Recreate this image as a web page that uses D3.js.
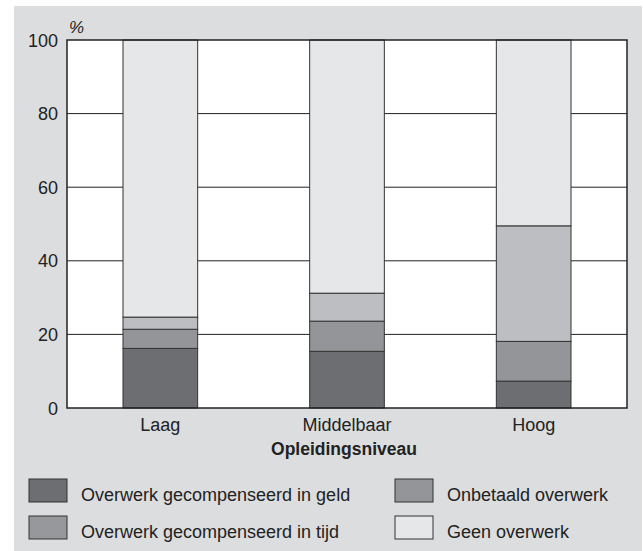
<!DOCTYPE html>
<html>
<head>
<meta charset="utf-8">
<script src="https://cdn.jsdelivr.net/npm/d3@7"></script>
<style>
  body { margin: 0; background: #fff; }
  svg { display: block; font-family: "Liberation Sans", Arial, sans-serif; }
</style>
</head>
<body>
<svg width="643" height="551"></svg>
<script>
  const levels = ['Laag', 'Middelbaar', 'Hoog'];
  const seriesNames = [
    'Overwerk gecompenseerd in geld',
    'Overwerk gecompenseerd in tijd',
    'Onbetaald overwerk',
    'Geen overwerk'
  ];
  const geld = [16.2, 15.4, 7.3];
  const tijd = [5.2, 8.2, 10.8];
  const onbetaald = [3.3, 7.6, 31.4];
  const geen = [75.3, 68.8, 50.5];
  const yTicks = [0, 20, 40, 60, 80, 100];

  const fills = ['#6d6e71', '#939598', '#bdbec1', '#e6e7e8'];
  const swatchFills = ['#6d6e71', '#97989b', '#949598', '#e6e7e8'];

  const svg = d3.select('svg');
  const width = 643;
  const height = 551;
  const margin = { top: 40, right: 16, bottom: 143, left: 67 };
  const innerWidth = width - margin.left - margin.right;
  const innerHeight = height - margin.top - margin.bottom;

  // grey panel
  svg.append('rect')
    .attr('x', 14).attr('y', 6)
    .attr('width', 628).attr('height', 545)
    .attr('fill', '#dcdddf');

  const rows = levels.map((l, i) => ({
    level: l, geld: geld[i], tijd: tijd[i], onbetaald: onbetaald[i], geen: geen[i]
  }));
  const keys = ['geld', 'tijd', 'onbetaald', 'geen'];
  const stacked = d3.stack().keys(keys)(rows);

  const x = d3.scaleBand().domain(levels).range([0, innerWidth]).paddingInner(0.6).paddingOuter(0.3);
  const y = d3.scaleLinear().domain([0, 100]).range([innerHeight, 0]);

  const g = svg.append('g').attr('transform', `translate(${margin.left},${margin.top})`);

  g.append('rect')
    .attr('width', innerWidth).attr('height', innerHeight)
    .attr('fill', '#fff');

  g.selectAll('.grid').data(yTicks.filter(t => t > 0 && t < 100))
    .enter().append('line')
      .attr('x1', 0).attr('x2', innerWidth)
      .attr('y1', d => y(d)).attr('y2', d => y(d))
      .attr('stroke', '#222').attr('stroke-width', 1);

  g.selectAll('.layer').data(stacked)
    .enter().append('g')
      .attr('fill', (d, i) => fills[i])
    .selectAll('rect').data(d => d)
    .enter().append('rect')
      .attr('x', d => x(d.data.level))
      .attr('y', d => y(d[1]))
      .attr('width', x.bandwidth())
      .attr('height', d => y(d[0]) - y(d[1]))
      .attr('stroke', '#333')
      .attr('stroke-width', 1);

  // frame
  g.append('rect')
    .attr('width', innerWidth).attr('height', innerHeight)
    .attr('fill', 'none').attr('stroke', '#222').attr('stroke-width', 1.5);

  const styleAxis = s => {
    s.attr('font-size', null).attr('font-family', null);
    s.select('.domain').remove();
    s.selectAll('.tick line').remove();
    s.selectAll('text')
      .attr('font-size', 18)
      .attr('fill', '#222');
  };

  const yAxis = d3.axisLeft(y).tickValues(yTicks).tickSize(0).tickPadding(9);
  g.append('g').call(yAxis).call(styleAxis)
    .selectAll('text').attr('dy', null).attr('y', 6);

  const xAxis = d3.axisBottom(x).tickSize(0).tickPadding(9);
  g.append('g').attr('transform', `translate(0,${innerHeight})`).call(xAxis).call(styleAxis)
    .selectAll('text').attr('dy', null).attr('y', 23);

  svg.append('text')
    .attr('x', 69).attr('y', 33)
    .attr('font-size', 17)
    .attr('font-style', 'italic')
    .attr('fill', '#222')
    .text('%');

  svg.append('text')
    .attr('x', margin.left + innerWidth / 2 - 3).attr('y', 455)
    .attr('text-anchor', 'middle')
    .attr('font-size', 17.5)
    .attr('font-weight', 'bold')
    .attr('fill', '#222')
    .text('Opleidingsniveau');

  // legend, two columns
  const legendPos = [[29, 479], [29, 516], [395, 479], [395, 516]];
  const legend = svg.selectAll('.legend').data(seriesNames)
    .enter().append('g')
      .attr('transform', (d, i) => `translate(${legendPos[i][0]},${legendPos[i][1]})`);
  legend.append('rect')
    .attr('width', 38).attr('height', 23)
    .attr('fill', (d, i) => swatchFills[i])
    .attr('stroke', '#333').attr('stroke-width', 1);
  legend.append('text')
    .attr('x', 52).attr('y', 22)
    .attr('font-size', 18)
    .attr('fill', '#222')
    .text(d => d);
</script>
</body>
</html>
